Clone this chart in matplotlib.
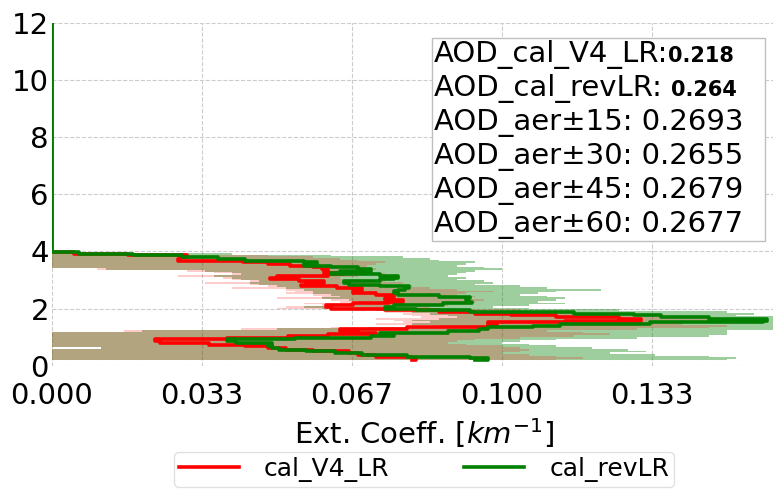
import matplotlib
matplotlib.use("Agg")
import matplotlib.pyplot as plt
from matplotlib.offsetbox import TextArea, HPacker, VPacker, AnchoredOffsetbox, DrawingArea

# Altitude levels [km] of the retrieved extinction profiles (top to bottom)
alt_km = [12.00, 4.04,
          3.98, 3.92, 3.86, 3.80, 3.74, 3.68, 3.62, 3.56,
          3.50, 3.44, 3.38, 3.32, 3.26, 3.20, 3.14, 3.08,
          3.02, 2.96, 2.90, 2.84, 2.78, 2.72, 2.66, 2.60,
          2.54, 2.48, 2.42, 2.36, 2.30, 2.24, 2.18, 2.12,
          2.06, 2.00, 1.94, 1.88, 1.82, 1.76, 1.70, 1.64,
          1.58, 1.52, 1.46, 1.40, 1.34, 1.28, 1.22, 1.16,
          1.10, 1.04, 0.98, 0.92, 0.86, 0.80, 0.74, 0.68,
          0.62, 0.56, 0.50, 0.44, 0.38, 0.32, 0.26, 0.20]

# Extinction coefficient [km^-1], calibrated with the V4 lidar ratio
ext_cal_v4_lr = [0.000, 0.000,
                 0.000, 0.010, 0.024, 0.036, 0.021, 0.035, 0.050, 0.046,
                 0.060, 0.056, 0.064, 0.059, 0.062, 0.068, 0.055, 0.045,
                 0.052, 0.058, 0.063, 0.050, 0.061, 0.066, 0.072, 0.064,
                 0.070, 0.074, 0.078, 0.072, 0.076, 0.080, 0.070, 0.064,
                 0.058, 0.066, 0.082, 0.090, 0.098, 0.106, 0.118, 0.134,
                 0.128, 0.100, 0.094, 0.104, 0.090, 0.068, 0.060, 0.076,
                 0.068, 0.055, 0.050, 0.028, 0.018, 0.030, 0.040, 0.046,
                 0.050, 0.054, 0.062, 0.070, 0.066, 0.078, 0.082, 0.080]

# Extinction coefficient [km^-1], calibrated with the revised lidar ratio
ext_cal_rev_lr = [0.000, 0.000,
                  0.000, 0.012, 0.024, 0.034, 0.040, 0.046, 0.066, 0.052,
                  0.060, 0.064, 0.072, 0.070, 0.058, 0.066, 0.080, 0.074,
                  0.078, 0.068, 0.062, 0.070, 0.076, 0.083, 0.074, 0.080,
                  0.072, 0.082, 0.090, 0.096, 0.088, 0.097, 0.090, 0.084,
                  0.068, 0.080, 0.082, 0.104, 0.128, 0.131, 0.140, 0.152,
                  0.166, 0.150, 0.116, 0.110, 0.104, 0.090, 0.100, 0.076,
                  0.070, 0.082, 0.060, 0.048, 0.030, 0.052, 0.046, 0.050,
                  0.048, 0.053, 0.060, 0.066, 0.072, 0.086, 0.100, 0.094]

# Spread of the V4-LR profile (lower / upper envelope)
v4_lr_low = [0.0, 0.0,
             0.0, 0.0, 0.0, 0.0, 0.0, 0.0, 0.0, 0.0,
             0.0, 0.0, 0.010, 0.030, 0.036, 0.040, 0.028, 0.038,
             0.040, 0.044, 0.034, 0.044, 0.048, 0.040, 0.052, 0.054,
             0.052, 0.058, 0.060, 0.050, 0.062, 0.064, 0.056, 0.060,
             0.052, 0.050, 0.066, 0.074, 0.078, 0.080, 0.082, 0.072,
             0.076, 0.078, 0.072, 0.080, 0.062, 0.042, 0.016, 0.0,
             0.0, 0.0, 0.0, 0.0, 0.0, 0.0, 0.0, 0.0,
             0.011, 0.0, 0.0, 0.0, 0.0, 0.0, 0.0, 0.0]
v4_lr_high = [0.0, 0.0,
              0.004, 0.030, 0.048, 0.058, 0.064, 0.068, 0.074, 0.072,
              0.070, 0.066, 0.072, 0.066, 0.070, 0.074, 0.068, 0.064,
              0.070, 0.074, 0.078, 0.072, 0.080, 0.084, 0.090, 0.098,
              0.092, 0.090, 0.094, 0.092, 0.096, 0.094, 0.092, 0.088,
              0.084, 0.090, 0.104, 0.112, 0.120, 0.126, 0.138, 0.146,
              0.150, 0.144, 0.140, 0.150, 0.146, 0.130, 0.110, 0.118,
              0.124, 0.116, 0.104, 0.094, 0.090, 0.088, 0.092, 0.100,
              0.104, 0.106, 0.104, 0.100, 0.106, 0.112, 0.118, 0.112]

# Spread of the revised-LR profile (lower / upper envelope)
rev_lr_low = [0.0, 0.0,
              0.0, 0.0, 0.0, 0.0, 0.0, 0.0, 0.0, 0.0,
              0.0, 0.0, 0.012, 0.034, 0.040, 0.042, 0.036, 0.040,
              0.042, 0.046, 0.044, 0.046, 0.050, 0.052, 0.056, 0.058,
              0.058, 0.062, 0.064, 0.060, 0.066, 0.068, 0.066, 0.064,
              0.056, 0.060, 0.072, 0.080, 0.084, 0.088, 0.090, 0.086,
              0.080, 0.084, 0.080, 0.086, 0.070, 0.050, 0.020, 0.0,
              0.0, 0.0, 0.0, 0.0, 0.0, 0.0, 0.0, 0.0,
              0.011, 0.0, 0.0, 0.0, 0.0, 0.0, 0.0, 0.0]
rev_lr_high = [0.0, 0.0,
               0.006, 0.040, 0.062, 0.078, 0.084, 0.086, 0.094, 0.092,
               0.090, 0.096, 0.100, 0.094, 0.092, 0.090, 0.088, 0.092,
               0.090, 0.096, 0.098, 0.094, 0.104, 0.110, 0.122, 0.112,
               0.108, 0.104, 0.110, 0.114, 0.112, 0.108, 0.114, 0.106,
               0.098, 0.106, 0.126, 0.150, 0.156, 0.152, 0.164, 0.172,
               0.178, 0.172, 0.166, 0.170, 0.168, 0.164, 0.150, 0.150,
               0.150, 0.146, 0.130, 0.112, 0.104, 0.100, 0.106, 0.112,
               0.120, 0.128, 0.132, 0.124, 0.134, 0.146, 0.152, 0.150]

# Column AOD values
aod_cal_v4_lr = 0.218
aod_cal_rev_lr = 0.264
aer_windows = [15, 30, 45, 60]
aod_aer = [0.2693, 0.2655, 0.2679, 0.2677]

x_ticks = [0.0, 1 / 30, 2 / 30, 3 / 30, 4 / 30]
y_ticks = [0, 2, 4, 6, 8, 10, 12]

fig = plt.figure(figsize=(7.73, 4.90), dpi=100)
ax = fig.add_axes([0.0669, 0.2537, 0.9703, 0.6994])

# envelopes: green first, red on top (overlap gives the tan band)
ax.fill_betweenx(alt_km, rev_lr_low, rev_lr_high, step="mid", color="green",
                 alpha=0.38, linewidth=0, zorder=1)
ax.fill_betweenx(alt_km, v4_lr_low, v4_lr_high, step="mid", color="red",
                 alpha=0.2, linewidth=0, zorder=2)
ax.plot(ext_cal_v4_lr, alt_km, color="red", lw=2.6, drawstyle="steps-mid",
        label="cal_V4_LR", zorder=3)
ax.plot(ext_cal_rev_lr, alt_km, color="green", lw=2.6, drawstyle="steps-mid",
        label="cal_revLR", zorder=4)

ax.set_xlim(0, 1 / 6)
ax.set_ylim(0, 12)
ax.set_xticks(x_ticks)
ax.set_xticklabels([f"{t:.3f}" for t in x_ticks])
ax.set_yticks(y_ticks)
ax.grid(True, linestyle="--", color="0.8", linewidth=0.8, zorder=0)
ax.set_axisbelow(True)
for sp in ax.spines.values():
    sp.set_visible(False)
ax.tick_params(axis="both", length=0, labelsize=21)
ax.tick_params(axis="x", pad=12)
ax.tick_params(axis="y", pad=2)

ax.set_xlabel("Ext. Coeff. [$km^{-1}$]", fontsize=21)
ax.xaxis.set_label_coords(0.497, -0.148)

# AOD summary box
entries = [("AOD_cal_V4_LR:", f"{aod_cal_v4_lr:.3f}"),
           ("AOD_cal_revLR: ", f"{aod_cal_rev_lr:.3f}")]
entries += [(f"AOD_aer\u00b1{w}: {v:.4f}", None) for w, v in zip(aer_windows, aod_aer)]
rows = []
for plain, bold in entries:
    items = [TextArea(plain, textprops=dict(size=21))]
    if bold is not None:
        items.append(TextArea(bold, textprops=dict(size=15, weight="bold")))
    items.append(DrawingArea(14, 1))
    rows.append(HPacker(children=items, align="baseline", pad=0, sep=0))
stack = VPacker(children=rows, align="left", pad=0, sep=3.6)
box = AnchoredOffsetbox(loc="upper left", child=stack, pad=0.15, borderpad=0,
                        frameon=True, bbox_to_anchor=(432 / 773, 1 - 38 / 490),
                        bbox_transform=fig.transFigure)
box.patch.set_edgecolor("0.75")
box.patch.set_facecolor("white")
box.patch.set_linewidth(1.0)
box.set_zorder(10)
ax.add_artist(box)

fig.legend(loc="upper center", bbox_to_anchor=(424 / 773, 1 - 452 / 490),
           borderaxespad=0, ncol=2, fontsize=18, frameon=True, edgecolor="0.85",
           handlelength=2.4, handletextpad=1.0, columnspacing=3.0,
           borderpad=0.2)

fig.savefig("out.png", dpi=100)
